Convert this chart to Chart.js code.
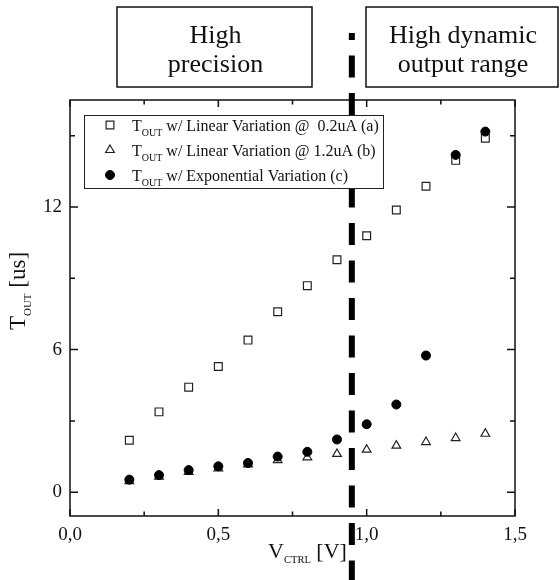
<!DOCTYPE html>
<html>
<head>
<meta charset="utf-8">
<script src="https://cdn.jsdelivr.net/npm/chart.js@4/dist/chart.umd.min.js"></script>
<style>
  html, body { margin: 0; padding: 0; background: #fff; }
  #wrap { width: 560px; height: 580px; }
</style>
</head>
<body>
<div id="wrap"><canvas id="toutChart" width="560" height="580"></canvas></div>
<script>
// control voltage V_CTRL [V]
const vCtrl = [0.2, 0.3, 0.4, 0.5, 0.6, 0.7, 0.8, 0.9, 1.0, 1.1, 1.2, 1.3, 1.4];
// T_OUT [us] for each mode
const toutLinear02 = [2.19, 3.38, 4.42, 5.29, 6.40, 7.59, 8.69, 9.78, 10.79, 11.87, 12.87, 13.96, 14.89];
const toutLinear12 = [0.47, 0.66, 0.86, 1.00, 1.17, 1.35, 1.47, 1.61, 1.79, 1.96, 2.11, 2.28, 2.46];
const toutExp = [0.53, 0.72, 0.93, 1.09, 1.23, 1.50, 1.70, 2.22, 2.86, 3.69, 5.75, 14.19, 15.17];

const xTickValues = [0, 0.25, 0.5, 0.75, 1.0, 1.25, 1.5];
const xTickLabels = ['0,0', '', '0,5', '', '1,0', '', '1,5'];
const yTickValues = [0, 3, 6, 9, 12, 15];
const yTickLabels = ['0', '', '6', '', '12', ''];

const seriesLabels = [
    ' w/ Linear Variation @  0.2uA (a)',
    ' w/ Linear Variation @ 1.2uA (b)',
    ' w/ Exponential Variation (c)'
];
const splitVoltage = 0.95; // border between the two regions
const regionLabels = [['High', 'precision'], ['High dynamic', 'output range']];

const SERIF = '"Liberation Serif", "Times New Roman", serif';
const INK = '#111';

function toPoints(ys) {
    return vCtrl.map((v, i) => ({ x: v, y: ys[i] }));
}

// draws the inward ticks and the full box round the plot
const framePlugin = {
    id: 'frame',
    beforeDatasetsDraw(chart) {
        const { ctx, chartArea: a, scales: { x, y } } = chart;
        ctx.save();
        ctx.strokeStyle = INK;
        ctx.lineWidth = 1.5;
        ctx.strokeRect(a.left, a.top, a.right - a.left, a.bottom - a.top);
        ctx.beginPath();
        x.ticks.forEach((t, i) => {
            const px = x.getPixelForValue(t.value);
            const len = xTickLabels[i] ? 7 : 4.5;
            ctx.moveTo(px, a.bottom); ctx.lineTo(px, a.bottom - len);
            ctx.moveTo(px, a.top); ctx.lineTo(px, a.top + len);
        });
        y.ticks.forEach((t, i) => {
            const py = y.getPixelForValue(t.value);
            const len = yTickLabels[i] ? 8 : 5;
            ctx.moveTo(a.left, py); ctx.lineTo(a.left + len, py);
            ctx.moveTo(a.right, py); ctx.lineTo(a.right - len, py);
        });
        ctx.stroke();
        ctx.restore();
    }
};

// divider line, legend, region boxes and axis titles
const notesPlugin = {
    id: 'notes',
    afterDatasetsDraw(chart) {
        const { ctx, chartArea: a, scales: { x } } = chart;
        const lg = { left: 84, top: 115, width: 299, height: 73, row: 25 };
        const dx = x.getPixelForValue(splitVoltage);

        ctx.save();
        // thick dashed divider
        ctx.strokeStyle = '#000';
        ctx.lineWidth = 6;
        ctx.setLineDash([22, 15.5]);
        ctx.beginPath();
        ctx.moveTo(dx, chart.height + 2.5);
        ctx.lineTo(dx, lg.top);
        ctx.stroke();
        ctx.beginPath();
        ctx.moveTo(dx, lg.top);
        ctx.lineTo(dx, 33);
        ctx.stroke();
        ctx.setLineDash([]);

        // legend
        ctx.fillStyle = '#fff';
        ctx.fillRect(lg.left, lg.top, lg.width, lg.height);
        ctx.strokeStyle = '#222';
        ctx.lineWidth = 1;
        ctx.strokeRect(lg.left + 0.5, lg.top + 0.5, lg.width, lg.height);
        chart.data.datasets.forEach((ds, i) => {
            const cy = lg.top + 10 + i * lg.row;
            ctx.fillStyle = ds.pointBackgroundColor;
            ctx.strokeStyle = ds.pointBorderColor;
            ctx.lineWidth = ds.pointBorderWidth;
            Chart.helpers.drawPoint(ctx, {
                pointStyle: ds.pointStyle, rotation: 0,
                radius: ds.pointRadius, borderWidth: ds.pointBorderWidth
            }, 110, cy);
            const base = cy + 6;
            let tx = 132;
            ctx.fillStyle = INK;
            ctx.textBaseline = 'alphabetic';
            ctx.textAlign = 'left';
            ctx.font = '16px ' + SERIF;
            ctx.fillText('T', tx, base);
            tx += ctx.measureText('T').width;
            ctx.font = '10px ' + SERIF;
            ctx.fillText('OUT', tx, base + 4.5);
            tx += ctx.measureText('OUT').width;
            ctx.font = '16px ' + SERIF;
            ctx.fillText(seriesLabels[i], tx, base);
        });

        // region boxes at the top
        const boxes = [{ left: 117, right: 312 }, { left: 366, right: 558 }];
        ctx.lineWidth = 1.5;
        ctx.strokeStyle = INK;
        ctx.fillStyle = INK;
        ctx.font = '26px ' + SERIF;
        ctx.textAlign = 'center';
        boxes.forEach((b, i) => {
            ctx.strokeRect(b.left, 7, b.right - b.left, 80);
            const cx = (b.left + b.right) / 2 + 1;
            ctx.fillText(regionLabels[i][0], cx, 43);
            ctx.fillText(regionLabels[i][1], cx, 72);
        });
        ctx.restore();
    },
    afterDraw(chart) {
        const { ctx, chartArea: a } = chart;
        ctx.save();
        ctx.fillStyle = INK;
        ctx.textAlign = 'left';
        ctx.textBaseline = 'alphabetic';
        function titleParts(main, sub, rest, size, subSize) {
            ctx.font = size + 'px ' + SERIF;
            const w1 = ctx.measureText(main).width;
            const w3 = ctx.measureText(rest).width;
            ctx.font = subSize + 'px ' + SERIF;
            const w2 = ctx.measureText(sub).width;
            return { w1, w2, w3, total: w1 + w2 + w3 };
        }
        function drawTitle(main, sub, rest, size, subSize, x0, drop) {
            const m = titleParts(main, sub, rest, size, subSize);
            let tx = x0 - m.total / 2;
            ctx.font = size + 'px ' + SERIF;
            ctx.fillText(main, tx, 0);
            tx += m.w1;
            ctx.font = subSize + 'px ' + SERIF;
            ctx.fillText(sub, tx, drop);
            tx += m.w2;
            ctx.font = size + 'px ' + SERIF;
            ctx.fillText(rest, tx, 0);
        }
        // x title
        ctx.save();
        ctx.translate(0, 558);
        drawTitle('V', 'CTRL', ' [V]', 22, 10.5, (a.left + a.right) / 2 + 15, 5);
        ctx.restore();
        // y title
        ctx.save();
        ctx.translate(25, (a.top + a.bottom) / 2 - 17);
        ctx.rotate(-Math.PI / 2);
        drawTitle('T', 'OUT', ' [us]', 23, 11, 0, 6);
        ctx.restore();
        ctx.restore();
    }
};

const bgPlugin = {
    id: 'bg',
    beforeDraw(chart) {
        const ctx = chart.ctx;
        ctx.save();
        ctx.fillStyle = '#fff';
        ctx.fillRect(0, 0, chart.width, chart.height);
        ctx.restore();
    }
};

new Chart(document.getElementById('toutChart').getContext('2d'), {
    type: 'scatter',
    data: {
        datasets: [
            {
                label: 'T_OUT w/ Linear Variation @ 0.2uA (a)',
                data: toPoints(toutLinear02),
                pointStyle: 'rect', pointRadius: 5.5,
                pointBackgroundColor: 'rgba(255,255,255,0)', pointBorderColor: '#222', pointBorderWidth: 1.2,
                order: 2
            },
            {
                label: 'T_OUT w/ Linear Variation @ 1.2uA (b)',
                data: toPoints(toutLinear12),
                pointStyle: 'triangle', pointRadius: 5,
                pointBackgroundColor: 'rgba(255,255,255,0)', pointBorderColor: '#222', pointBorderWidth: 1.2,
                order: 1
            },
            {
                label: 'T_OUT w/ Exponential Variation (c)',
                data: toPoints(toutExp),
                pointStyle: 'circle', pointRadius: 4.5,
                pointBackgroundColor: '#000', pointBorderColor: '#000', pointBorderWidth: 1,
                order: 0
            }
        ]
    },
    options: {
        responsive: false,
        animation: false,
        devicePixelRatio: 1,
        layout: { padding: { top: 100, right: 45, left: 0, bottom: 0 } },
        plugins: { legend: { display: false }, tooltip: { enabled: false } },
        scales: {
            x: {
                type: 'linear', min: 0, max: 1.5,
                afterBuildTicks(scale) { scale.ticks = xTickValues.map(v => ({ value: v })); },
                afterFit(scale) { scale.height = 64; },
                grid: { display: false, drawTicks: false },
                border: { display: false },
                ticks: {
                    autoSkip: false, maxRotation: 0, padding: 8, color: INK,
                    font: { family: SERIF, size: 19 },
                    callback: (v, i) => xTickLabels[i]
                }
            },
            y: {
                type: 'linear', min: -1, max: 16.5,
                afterBuildTicks(scale) { scale.ticks = yTickValues.map(v => ({ value: v })); },
                afterFit(scale) { scale.width = 70; },
                grid: { display: false, drawTicks: false },
                border: { display: false },
                ticks: {
                    autoSkip: false, padding: 8, color: INK,
                    font: { family: SERIF, size: 19 },
                    callback: (v, i) => yTickLabels[i]
                }
            }
        }
    },
    plugins: [bgPlugin, framePlugin, notesPlugin]
});
</script>
</body>
</html>
